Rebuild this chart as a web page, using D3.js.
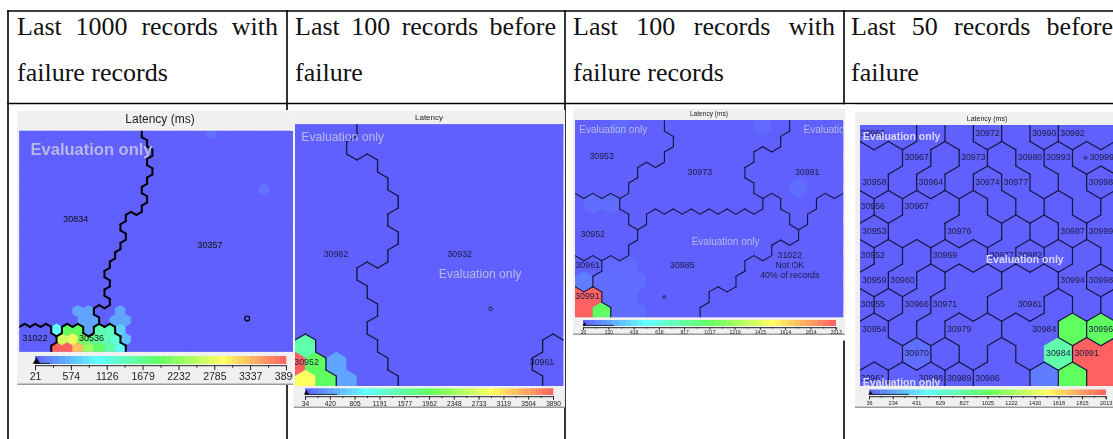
<!DOCTYPE html>
<html>
<head>
<meta charset="utf-8">
<script src="https://cdnjs.cloudflare.com/ajax/libs/d3/7.8.5/d3.min.js"></script>
<style>
  html, body { margin: 0; padding: 0; background: #fff; overflow: hidden; }
  svg { display: block; }
</style>
</head>
<body>
<svg width="1113" height="439"></svg>
<script>
// table headings
const headings = [
    ['Last 1000 records with', 'failure records'],
    ['Last 100 records before', 'failure'],
    ['Last 100 records with', 'failure records'],
    ['Last 50 records before', 'failure']
];

// colour bar tick labels
const ticksA = [21, 574, 1126, 1679, 2232, 2785, 3337, 3890];
const ticksB = [34, 420, 805, 1191, 1577, 1962, 2348, 2733, 3119, 3504, 3890];
const ticksC = [20, 220, 419, 618, 817, 1017, 1216, 1415, 1614, 1814, 2013];
const ticksD = [36, 234, 431, 629, 827, 1025, 1222, 1420, 1618, 1815, 2013];

// upper end of the small range marker on each colour bar
const rangeMarks = [253, 536, 265, 370];

const legendColors = ['#6060ff', '#60ffff', '#60ff60', '#ffff60', '#ff6060'];

// cluster of every map cell, one string per row, letter + run length
const clustersA = [
    'w12e14', 'w12e14', 'w13e13', 'w12e14', 'w13e13', 'w12e14', 'w12e14', 'w12e14',
    'w12e14', 'w10e16', 'w10e16', 'w10e16', 'w10e16', 'w9e17', 'w9e17', 'w8e18',
    'w9e17', 'w8e18', 'w9e17', 'w7e19', 'w8e18',
    's3w1t2w1t2e17', 's4t6e16', 's3t7e16'
];
const clustersB = [
    'w3e11', 'w3e11', 'w4e10', 'w5e9', 'w5e9', 'w5e9', 'w5e9', 'w5e9',
    'w3e11', 'w4e10', 'w4e10', 'w4e10', 't1w3e8r2', 't2w3e7r2', 't2w3e7r2'
];
const clustersC = [
    'a5b7c3', 'a6b6c4', 'a5b5c5', 'a4b6c6', 'a3b7c5',
    'd3b8e1c2f2', 'd3b1e8c1f2', 'd4e9f3', 'd3e8f4', 'g2e8f6',
    'g1e8f6', 'h2e6f8', 'h2e5f8'
];
const clustersD = [
    'AABCDEFGGG', 'IIBJCKELHH', 'IBJCMKELNN', 'OPQQRMKSLT', 'UQQRRVWSTT', 'XYZaaVbcdT',
    'YZeffggdhh', 'ijeffggkdl', 'mefnnkkopp', 'mmrsnqkktt', 'vwwxqquytt'
];

// cells above the lowest latency: [column, row, latency]
const hotCellsA = [
    [18, 0, 110], [23, 6, 130], [5, 19, 446], [6, 19, 446], [9, 19, 446],
    [6, 20, 446], [7, 20, 446], [9, 20, 446], [10, 20, 446],
    [3, 21, 988], [4, 21, 1955], [5, 21, 1955], [6, 21, 446], [7, 21, 1500], [8, 21, 1400], [9, 21, 700],
    [4, 22, 2650], [5, 22, 2800], [6, 22, 2050], [7, 22, 1650], [8, 22, 1450], [9, 22, 1250], [10, 22, 600],
    [3, 23, 3890], [4, 23, 3890], [5, 23, 3300], [6, 23, 2300], [7, 23, 1900], [8, 23, 1550], [9, 23, 1100]
];
const hotCellsB = [
    [0, 12, 1500], [0, 13, 3890], [1, 13, 1955], [2, 13, 450],
    [0, 14, 2900], [1, 14, 1955], [2, 14, 450]
];
const hotCellsC = [
    [2, 0, 50], [10, 0, 50], [12, 4, 65], [1, 5, 65], [2, 5, 65],
    [2, 9, 50], [3, 9, 50], [0, 10, 110], [1, 10, 60], [2, 10, 60], [3, 10, 60],
    [2, 11, 60], [3, 11, 60], [2, 12, 60], [3, 12, 60],
    [0, 11, 2013], [1, 11, 2013], [0, 12, 2013], [1, 12, 1010]
];
const hotCellsD = [
    [2, 9, 80], [7, 8, 1025], [8, 8, 1025], [7, 9, 790], [8, 9, 2013], [9, 9, 2013],
    [6, 10, 120], [7, 10, 1025], [8, 10, 2013], [9, 10, 2013]
];

// cluster labels: [text, column, row]
const labelsA = [['30834', 5.31, 9.2], ['30357', 17.9, 11.96], ['31022', 1.47, 21.96], ['30536', 6.78, 21.9]];
const labelsB = [['30982', 1.98, 6.94], ['30932', 7.98, 6.94], ['30952', 0.56, 12.9], ['30961', 11.97, 12.9]];
const labelsC = [
    ['30953', 1.49, 1.97], ['30973', 6.98, 2.98], ['30991', 12.98, 2.98], ['30952', 0.99, 6.97],
    ['30961', 0.71, 9.01], ['30985', 6, 8.99], ['31022', 12.01, 8.35], ['Not OK', 12.01, 8.99],
    ['40% of records', 12.01, 9.64], ['30991', 0.69, 10.99]
];
const labelsD = [
    ['30963', 0.45, 0], ['30972', 4.5, 0], ['30990', 6.5, 0], ['30992', 7.5, 0],
    ['30967', 2, 1], ['30973', 4, 1], ['30980', 6, 1], ['30993', 7, 1], ['30999', 8.53, 1],
    ['30958', 0.5, 2], ['30964', 2.5, 2], ['30974', 4.5, 2], ['30977', 5.5, 2], ['30998', 8.5, 2],
    ['30956', 0.45, 3], ['30967', 2, 3],
    ['30953', 0.5, 4], ['30976', 3.5, 4], ['30987', 7.5, 4], ['30999', 8.5, 4],
    ['30952', 0.45, 5], ['30969', 3, 5], ['30977', 5, 5], ['30982', 6, 5],
    ['30959', 0.5, 6], ['30960', 1.5, 6], ['30994', 7.5, 6], ['30998', 8.5, 6],
    ['30955', 0.45, 7], ['30966', 2, 7], ['30971', 3, 7], ['30981', 6, 7],
    ['30954', 0.5, 8], ['30979', 3.5, 8], ['30984', 6.5, 8], ['30996', 8.5, 8],
    ['30970', 2, 9], ['30984', 7, 9], ['30991', 8, 9],
    ['30961', 0.45, 10], ['30988', 2.5, 10], ['30989', 3.5, 10], ['30986', 4.5, 10]
];

// position of the current record on each map: [column, row]
const hitsA = [[21.4, 19.75]];
const hitsB = [[9.48, 9.93]];
const hitsC = [[4.99, 10.99]];
const hitsD = [[7.96, 1]];

// watermark positions: [column, row]
const watermarksA = [[6.78, 1.82]];
const watermarksB = [[2.31, 0.43], [8.97, 8.06]];
const watermarksC = [[2.14, 0.3], [8.42, 7.49], [14.67, 0.3]];
const watermarksD = [[1.47, 0.16], [5.82, 5.17], [1.47, 10.2]];

const titles = ['Latency (ms)', 'Latency', 'Latency (ms)', 'Latency (ms)'];

// layout of the four screenshots
const layouts = [
    { frame: [17.5, 110, 293, 385], plot: [19.3, 130.7, 293, 351.7], bar: [35, 356, 286, 364], cols: 25.7, rows: [-0.357, 23.32], flip: 1, titleX: 160,
      titleY: 120, titleSize: 12, labelSize: 9, tickSize: 10.5, tickLen: 5, waterSize: 16.5, waterWeight: 'bold', wall: 2, wallColor: '#000', hitR: 2.4, blur: 0.5 },
    { frame: [293.5, 110, 565, 408], plot: [295, 124.3, 563.3, 386], bar: [305, 388.3, 553, 395], cols: 13, rows: [-0.315, 14.22], flip: 0, titleX: 429,
      titleY: 117.5, titleSize: 8, labelSize: 8.8, tickSize: 6.6, tickLen: 3.5, waterSize: 12.2, waterWeight: 'normal', wall: 1.3, wallColor: '#14143c', hitR: 1.8, blur: 0.55 },
    { frame: [573, 108, 845, 335], plot: [575, 120, 843.3, 317.3], bar: [583, 320, 835.7, 326], cols: 15, rows: [-0.386, 12.3], flip: 0, titleX: 709,
      titleY: 114.5, titleSize: 6.6, labelSize: 8.8, tickSize: 5, tickLen: 2.5, waterSize: 10, waterWeight: 'normal', wall: 1.1, wallColor: '#14143c', hitR: 1.3, blur: 0.65 },
    { frame: [855, 111.5, 1113, 408], plot: [860, 125, 1113, 386], bar: [869, 389.5, 1105.7, 395], cols: 8.93, rows: [-0.34, 10.31], flip: 0, titleX: 987,
      titleY: 119, titleSize: 7, labelSize: 8.8, tickSize: 5.6, tickLen: 3, waterSize: 10.5, waterWeight: 'bold', wall: 1.2, wallColor: '#14143c', hitR: 1.3, blur: 0.65 }
];

const allTicks = [ticksA, ticksB, ticksC, ticksD];
const allClusters = [clustersA, clustersB, clustersC, clustersD];
const allHotCells = [hotCellsA, hotCellsB, hotCellsC, hotCellsD];
const allLabels = [labelsA, labelsB, labelsC, labelsD];
const allHits = [hitsA, hitsB, hitsC, hitsD];
const allWatermarks = [watermarksA, watermarksB, watermarksC, watermarksD];

const svg = d3.select('svg');
const defs = svg.append('defs');
const sans = "'Liberation Sans', Arial, sans-serif";
const serif = "'Liberation Serif', 'Times New Roman', serif";

// expand 'w12e14' or 'AABC' into an array of cluster letters
const parseRow = (row) => {
    const cells = [];
    for (const m of row.matchAll(/([a-zA-Z])(\d*)/g)) {
        const n = m[2] === '' ? 1 : +m[2];
        for (let i = 0; i < n; i++) cells.push(m[1]);
    }
    return cells;
};

const drawTable = () => {
    const lines = svg.append('g').attr('stroke', '#000').attr('stroke-width', 1.6);
    [8, 287, 565, 844].forEach(x => {
        lines.append('line').attr('x1', x).attr('x2', x).attr('y1', 10).attr('y2', 439);
    });
    lines.append('line').attr('x1', 7.2).attr('x2', 1113).attr('y1', 11).attr('y2', 11);
    lines.append('line').attr('x1', 7.2).attr('x2', 1113).attr('y1', 103.5).attr('y2', 103.5);

    const starts = [17, 295, 573, 851];
    const widths = [261, 261, 262, 262];
    headings.forEach((pair, i) => {
        pair.forEach((line, j) => {
            const t = svg.append('text')
                .attr('x', starts[i])
                .attr('y', j === 0 ? 35 : 80.5)
                .attr('font-family', serif)
                .attr('font-size', 26)
                .attr('fill', '#111')
                .text(line);
            if (j === 0) {
                // first line is justified in the cell
                const gaps = line.split(' ').length - 1;
                const extra = (widths[i] - t.node().getComputedTextLength()) / gaps;
                t.attr('word-spacing', extra);
            }
        });
    });
};

const drawPanel = (index) => {
    const lay = layouts[index];
    const ticks = allTicks[index];
    const [fx0, fy0, fx1, fy1] = lay.frame;
    const [px0, py0, px1, py1] = lay.plot;
    const [bx0, by0, bx1, by1] = lay.bar;

    defs.append('filter').attr('id', `soft${index}`)
        .attr('x', '-2%').attr('y', '-2%').attr('width', '104%').attr('height', '104%')
        .append('feGaussianBlur').attr('stdDeviation', lay.blur);
    defs.append('clipPath').attr('id', `plot${index}`)
        .append('rect').attr('x', px0).attr('y', py0).attr('width', px1 - px0).attr('height', py1 - py0);
    defs.append('clipPath').attr('id', `frame${index}`)
        .append('rect').attr('x', fx0).attr('y', fy0).attr('width', fx1 - fx0).attr('height', fy1 - fy0);

    const outer = svg.append('g').attr('clip-path', `url(#frame${index})`);
    const panel = outer.append('g').attr('filter', `url(#soft${index})`);

    panel.append('rect')
        .attr('x', fx0 - 2).attr('y', fy0).attr('width', fx1 - fx0 + 4).attr('height', fy1 - fy0 + 2)
        .attr('fill', '#f0f0f0').attr('stroke', '#fff');
    panel.append('line')
        .attr('x1', fx0).attr('x2', fx1).attr('y1', fy1 - 0.8).attr('y2', fy1 - 0.8)
        .attr('stroke', '#9a9a9a').attr('stroke-width', 1.4);
    panel.append('text')
        .attr('x', lay.titleX)
        .attr('y', lay.titleY)
        .attr('text-anchor', 'middle').attr('dominant-baseline', 'middle')
        .attr('font-family', sans).attr('font-size', lay.titleSize).attr('fill', '#222')
        .text(titles[index]);

    const color = d3.scaleLinear()
        .domain(d3.range(legendColors.length).map(i => ticks[0] + (ticks[ticks.length - 1] - ticks[0]) * i / (legendColors.length - 1)))
        .range(legendColors);
    const x = d3.scaleLinear().domain([0, lay.cols]).range([px0, px1]);
    const y = d3.scaleLinear().domain(lay.rows).range([py0, py1]);
    const cellW = x(1) - x(0);
    const rowH = y(1) - y(0);
    const shift = (r) => ((r + lay.flip) % 2 === 0 ? 0.5 : 0);

    const grid = allClusters[index].map(parseRow);
    const hot = new Map(allHotCells[index].map(d => [`${d[0]},${d[1]}`, d[2]]));
    const plot = panel.append('g').attr('clip-path', `url(#plot${index})`);

    plot.append('rect').attr('x', px0).attr('y', py0).attr('width', px1 - px0).attr('height', py1 - py0)
        .attr('fill', color(ticks[0]));

    // one hexagon per map cell
    const cells = [];
    grid.forEach((row, r) => row.forEach((cluster, c) => {
        cells.push({ c, r, cluster, value: hot.has(`${c},${r}`) ? hot.get(`${c},${r}`) : ticks[0] });
    }));
    const corners = [[0, -2 / 3], [0.5, -1 / 3], [0.5, 1 / 3], [0, 2 / 3], [-0.5, 1 / 3], [-0.5, -1 / 3]];
    const corner = (d, k) => [x(d.c + shift(d.r)) + corners[k][0] * cellW, y(d.r) + corners[k][1] * rowH];
    plot.selectAll('path.cell').data(cells).enter().append('path')
        .attr('class', 'cell')
        .attr('d', d => d3.line()(d3.range(6).map(k => corner(d, k))) + 'Z')
        .attr('fill', d => color(d.value))
        .attr('stroke', d => color(d.value))
        .attr('stroke-width', 0.4);

    // cluster walls run along every edge shared by two different clusters
    const neighbour = (d, side) => {
        if (side === 'e') return grid[d.r][d.c + 1];
        const next = grid[d.r + 1];
        if (!next) return undefined;
        const onRight = shift(d.r) === 0.5 ? d.c + 1 : d.c;
        return next[side === 'se' ? onRight : onRight - 1];
    };
    const walls = [];
    cells.forEach(d => {
        [['e', 1, 2], ['se', 2, 3], ['sw', 3, 4]].forEach(([side, a, b]) => {
            const other = neighbour(d, side);
            if (other !== undefined && other !== d.cluster) walls.push([corner(d, a), corner(d, b)]);
        });
    });
    plot.selectAll('path.wall').data(walls).enter().append('path')
        .attr('class', 'wall')
        .attr('d', d => d3.line()(d))
        .attr('fill', 'none')
        .attr('stroke', lay.wallColor)
        .attr('stroke-width', lay.wall)
        .attr('stroke-linecap', 'round');

    plot.selectAll('circle.hit').data(allHits[index]).enter().append('circle')
        .attr('class', 'hit')
        .attr('cx', d => x(d[0])).attr('cy', d => y(d[1])).attr('r', lay.hitR)
        .attr('fill', 'none').attr('stroke', lay.wallColor).attr('stroke-width', index === 0 ? 1.2 : 0.9);

    plot.selectAll('text.label').data(allLabels[index]).enter().append('text')
        .attr('class', 'label')
        .attr('x', d => x(d[1])).attr('y', d => y(d[2]))
        .attr('text-anchor', 'middle').attr('dominant-baseline', 'middle')
        .attr('font-family', sans).attr('font-size', lay.labelSize)
        .attr('fill', index === 0 ? '#111' : '#1c1c40')
        .text(d => d[0]);

    plot.selectAll('text.water').data(allWatermarks[index]).enter().append('text')
        .attr('class', 'water')
        .attr('x', d => x(d[0])).attr('y', d => y(d[1]))
        .attr('text-anchor', 'middle').attr('dominant-baseline', 'middle')
        .attr('font-family', sans).attr('font-size', lay.waterSize).attr('font-weight', lay.waterWeight)
        .attr('fill', index === 3 ? '#d8d8f8' : '#b8b8e8')
        .text('Evaluation only');

    // colour bar
    const barScale = d3.scaleLinear().domain([ticks[0], ticks[ticks.length - 1]]).range([bx0, bx1]);
    const steps = 42;
    const stepW = (bx1 - bx0) / steps;
    panel.selectAll('rect.step').data(d3.range(steps)).enter().append('rect')
        .attr('class', 'step')
        .attr('x', i => bx0 + i * stepW).attr('y', by0)
        .attr('width', stepW + 0.3).attr('height', by1 - by0)
        .attr('fill', i => color(barScale.invert(bx0 + (i + 0.5) * stepW)));

    const axisY = by1 + 1.2;
    const axis = panel.append('g').attr('transform', `translate(0,${axisY})`)
        .call(d3.axisBottom(barScale).tickValues(ticks).tickFormat(d => d).tickSize(lay.tickLen).tickPadding(lay.tickLen * 0.5));
    axis.selectAll('text').attr('font-family', sans).attr('font-size', lay.tickSize).attr('fill', '#222');
    axis.selectAll('line, path').attr('stroke', '#222');
    const mids = d3.pairs(ticks).map(p => (p[0] + p[1]) / 2);
    const minor = panel.append('g').attr('transform', `translate(0,${axisY})`)
        .call(d3.axisBottom(barScale).tickValues(mids).tickFormat('').tickSize(lay.tickLen * 0.5));
    minor.selectAll('line').attr('stroke', '#222');
    minor.select('path').remove();

    // range marker at the low end of the bar
    panel.append('line')
        .attr('x1', bx0).attr('x2', barScale(rangeMarks[index]))
        .attr('y1', by1 - 0.6).attr('y2', by1 - 0.6)
        .attr('stroke', '#111').attr('stroke-width', 0.8);
    panel.append('path')
        .attr('d', d3.symbol().type(d3.symbolTriangle).size(lay.tickLen * lay.tickLen))
        .attr('transform', `translate(${bx0 + 1.5},${by0 + (by1 - by0) * 0.7})`)
        .attr('fill', '#111');
};

drawTable();

// white margin of the third screenshot hides the table line behind it
svg.append('rect').attr('x', 843).attr('y', 104.5).attr('width', 12).attr('height', 236).attr('fill', '#fff');

layouts.forEach((lay, i) => drawPanel(i));
</script>
</body>
</html>
